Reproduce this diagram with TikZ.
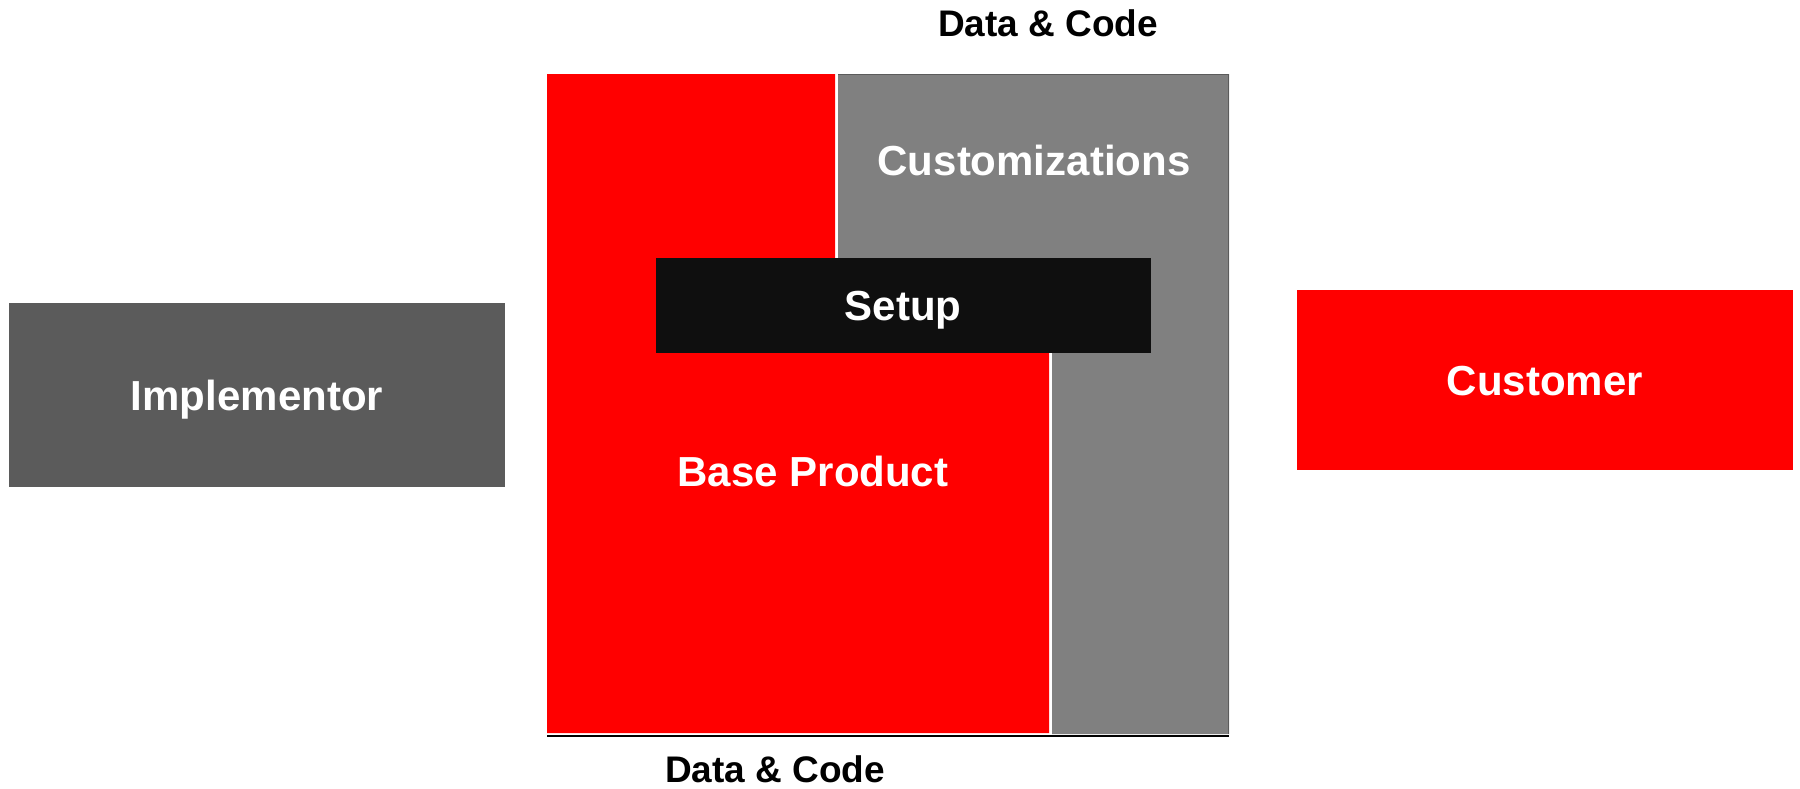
\documentclass[tikz,border=0pt]{standalone}
\usepackage{fontspec}
\setmainfont{Liberation Sans}
\definecolor{myred}{HTML}{FF0000}
\definecolor{mygray}{HTML}{808080}
\definecolor{darkbox}{HTML}{5B5B5B}
\definecolor{setupblack}{HTML}{0F0F0F}
\begin{document}
\begin{tikzpicture}[x=1pt,y=-1pt,
  bigtext/.style={font=\fontsize{42}{50}\selectfont\bfseries, text=white},
  dctext/.style={font=\fontsize{37}{44}\selectfont\bfseries, text=black, inner sep=0pt, anchor=base},
  box/.style={rectangle, inner sep=0pt, text height=30pt, text depth=0pt, bigtext},
  lbl/.style={inner sep=0pt, anchor=base, bigtext}]
\useasboundingbox (0,0) rectangle (1800,788);
% gray customizations panel
\fill[mygray] (838,74) -- (1229,74) -- (1229,734) -- (1052,734) -- (1052,300) -- (838,300) -- cycle;
\draw[darkbox, line width=1.2pt] (838,74.5) -- (1228.5,74.5) -- (1228.5,734);
% red base product
\fill[myred] (547,74) -- (835,74) -- (835,300) -- (1049,300) -- (1049,733) -- (547,733) -- cycle;
% bottom line
\coordinate (bl) at (547,735.5);
\coordinate (br) at (1229,735.5);
\draw[black, line width=2pt] (bl) -- (br);
% setup
\node[box, fill=setupblack, minimum width=495pt, minimum height=95pt] (setup) at (903,305.5) {Setup};
% labels
\node[lbl] (cust) at (1034,175) {Customizations};
\node[lbl] (base) at (813,486) {Base Product};
\node[dctext] (dctop) at (1048,36) {Data \& Code};
\node[dctext] (dcbot) at (775,782) {Data \& Code};
% side boxes
\node[box, fill=darkbox, minimum width=496pt, minimum height=184pt] (impl) at (257,395) {Implementor};
\node[box, fill=myred, minimum width=496pt, minimum height=180pt] (customer) at (1545,380) {Customer};
\end{tikzpicture}
\end{document}
